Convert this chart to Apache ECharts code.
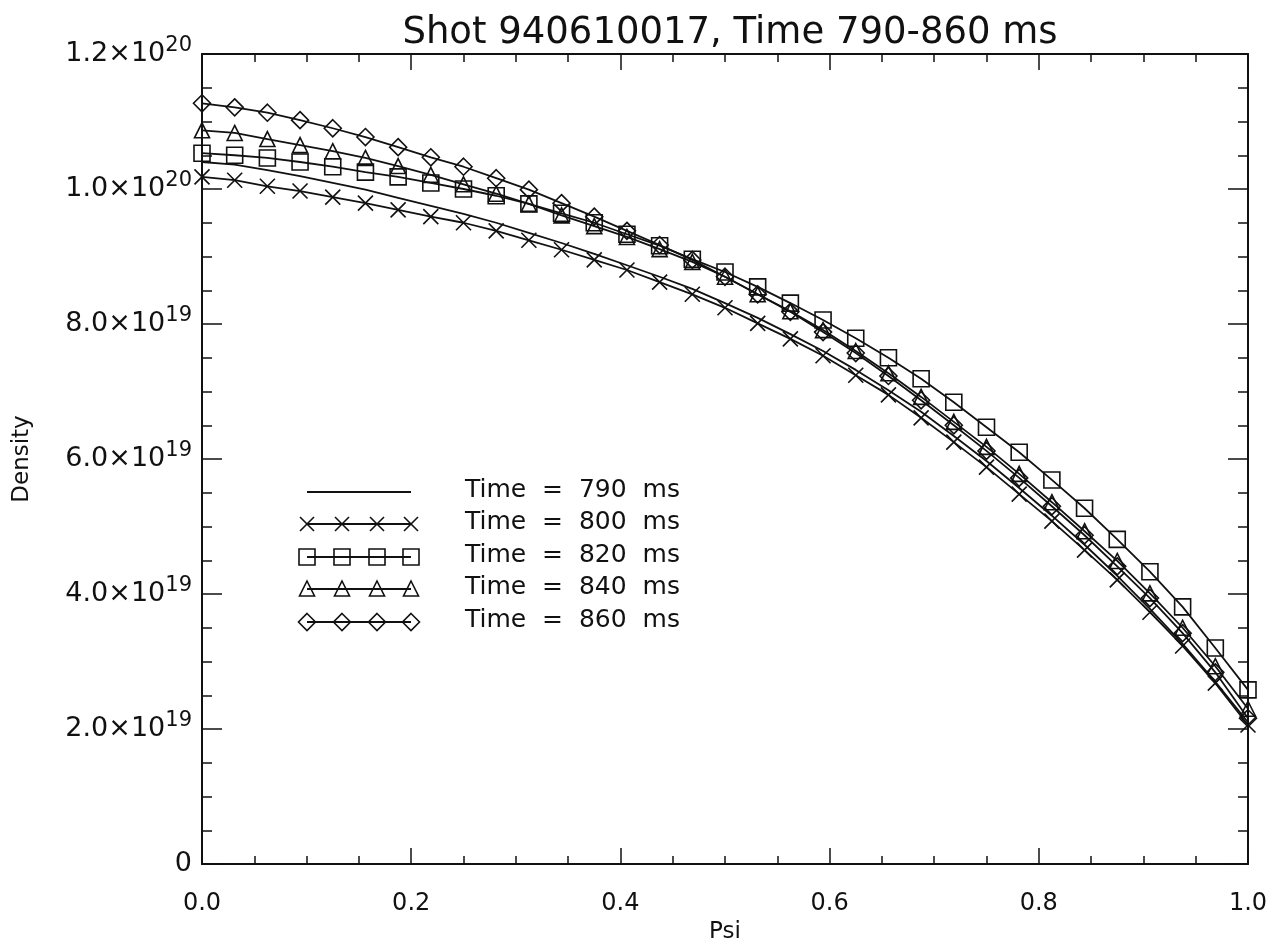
<!DOCTYPE html>
<html>
<head>
<meta charset="utf-8">
<script src="https://cdn.jsdelivr.net/npm/echarts@6/dist/echarts.min.js"></script>
<style>
html,body{margin:0;padding:0;background:#fff;}
#chart{width:1284px;height:945px;}
</style>
</head>
<body>
<div id="chart"></div>
<script>
// Psi grid (33 points)
const psi = [0, 0.03125, 0.0625, 0.09375, 0.125, 0.15625, 0.1875, 0.21875, 0.25, 0.28125,
  0.3125, 0.34375, 0.375, 0.40625, 0.4375, 0.46875, 0.5, 0.53125, 0.5625, 0.59375,
  0.625, 0.65625, 0.6875, 0.71875, 0.75, 0.78125, 0.8125, 0.84375, 0.875, 0.90625,
  0.9375, 0.96875, 1.0];

// Density values in units of 1e19 m^-3
const t790 = [10.40, 10.36, 10.28, 10.19, 10.09, 9.99, 9.87, 9.75, 9.63, 9.50,
  9.35, 9.20, 9.04, 8.87, 8.70, 8.52, 8.31, 8.09, 7.85, 7.60,
  7.32, 7.02, 6.70, 6.34, 5.97, 5.57, 5.16, 4.73, 4.27, 3.78,
  3.26, 2.70, 2.10];
const t800 = [10.18, 10.13, 10.04, 9.97, 9.88, 9.79, 9.69, 9.59, 9.50, 9.38,
  9.24, 9.10, 8.95, 8.80, 8.62, 8.44, 8.24, 8.01, 7.78, 7.53,
  7.24, 6.95, 6.61, 6.25, 5.88, 5.48, 5.08, 4.65, 4.21, 3.73,
  3.23, 2.68, 2.06];
const t820 = [10.53, 10.50, 10.46, 10.40, 10.33, 10.25, 10.18, 10.09, 10.00, 9.90,
  9.78, 9.64, 9.50, 9.33, 9.16, 8.96, 8.77, 8.55, 8.31, 8.06,
  7.79, 7.50, 7.19, 6.84, 6.47, 6.10, 5.69, 5.27, 4.81, 4.33,
  3.81, 3.20, 2.58];
const t840 = [10.87, 10.83, 10.74, 10.65, 10.56, 10.46, 10.34, 10.21, 10.07, 9.93,
  9.78, 9.61, 9.45, 9.29, 9.11, 8.92, 8.70, 8.44, 8.19, 7.91,
  7.60, 7.27, 6.92, 6.55, 6.18, 5.78, 5.36, 4.93, 4.49, 4.01,
  3.50, 2.93, 2.30];
const t860 = [11.27, 11.21, 11.13, 11.02, 10.90, 10.77, 10.62, 10.47, 10.33, 10.16,
  9.99, 9.79, 9.59, 9.38, 9.17, 8.95, 8.70, 8.44, 8.18, 7.88,
  7.57, 7.23, 6.87, 6.50, 6.12, 5.72, 5.30, 4.87, 4.41, 3.94,
  3.42, 2.84, 2.16];

const seriesNames = ['Time = 790 ms', 'Time = 800 ms', 'Time = 820 ms', 'Time = 840 ms', 'Time = 860 ms'];
const legendTexts = ['Time  =  790  ms', 'Time  =  800  ms', 'Time  =  820  ms', 'Time  =  840  ms', 'Time  =  860  ms'];

// Y tick labels (value in 1e19 units -> [mantissa, exponent])
const yTickValues = [0, 2, 4, 6, 8, 10, 12];
const yTickMant = ['0', '2.0×10', '4.0×10', '6.0×10', '8.0×10', '1.0×10', '1.2×10'];
const yTickExp = ['', '19', '19', '19', '19', '20', '20'];
const xTickLabels = ['0.0', '0.2', '0.4', '0.6', '0.8', '1.0'];

const INK = '#111';
const FONT = 'DejaVu Sans';

const chart = echarts.init(document.getElementById('chart'), null, {renderer: 'canvas'});

const symX = 'path://M0,0L10,10M10,0L0,10';
const symbols = ['none', symX, 'rect', 'triangle', 'diamond'];
const symSizes = [0, 15, 16, 15, 17];
const dataSets = [t790, t800, t820, t840, t860];

const series = dataSets.map((d, s) => ({
  type: 'line',
  name: seriesNames[s],
  data: psi.map((x, i) => [x, d[i]]),
  symbol: symbols[s],
  symbolSize: symSizes[s],
  showSymbol: s > 0,
  showAllSymbol: true,
  animation: false,
  lineStyle: {color: INK, width: 1.8},
  itemStyle: {color: 'rgba(0,0,0,0)', borderColor: INK, borderWidth: 1.6},
  emphasis: {disabled: true},
  z: 3 + s
}));

// legend samples drawn as graphics (decoration only)
const rowsY = [492, 524, 557, 589, 622];
const lx0 = 307, lx1 = 411;
const mxs = [307, 342, 377, 411];
const graphic = [];
rowsY.forEach((y, r) => {
  graphic.push({type: 'line', shape: {x1: lx0, y1: y, x2: lx1, y2: y}, style: {stroke: INK, lineWidth: 1.8}, silent: true});
  if (r > 0) {
    mxs.forEach(mx => {
      let el;
      if (r === 1) {
        el = {type: 'polyline', shape: {points: [[mx - 7, y - 7], [mx + 7, y + 7]]}, style: {stroke: INK, lineWidth: 1.6, fill: null}};
        graphic.push(el);
        el = {type: 'polyline', shape: {points: [[mx + 7, y - 7], [mx - 7, y + 7]]}, style: {stroke: INK, lineWidth: 1.6, fill: null}};
      } else if (r === 2) {
        el = {type: 'rect', shape: {x: mx - 8, y: y - 8, width: 16, height: 16}, style: {stroke: INK, lineWidth: 1.6, fill: null}};
      } else if (r === 3) {
        el = {type: 'polygon', shape: {points: [[mx, y - 8], [mx + 7.5, y + 7], [mx - 7.5, y + 7]]}, style: {stroke: INK, lineWidth: 1.6, fill: null}};
      } else {
        el = {type: 'polygon', shape: {points: [[mx, y - 8.5], [mx + 8.5, y], [mx, y + 8.5], [mx - 8.5, y]]}, style: {stroke: INK, lineWidth: 1.6, fill: null}};
      }
      el.silent = true;
      graphic.push(el);
    });
  }
  graphic.push({type: 'text', left: 465, top: y - 14, silent: true,
    style: {text: legendTexts[r], fontFamily: FONT, fontSize: 25, fill: INK}});
});

const axisLineStyle = {show: true, onZero: false, lineStyle: {color: INK, width: 2}};

const option = {
  backgroundColor: '#fff',
  animation: false,
  title: {
    text: 'Shot 940610017, Time 790-860 ms',
    left: 725, top: 10, textAlign: 'center',
    textStyle: {fontFamily: FONT, fontSize: 37, fontWeight: 'normal', color: INK}
  },
  grid: {left: 202, right: 36, top: 54, bottom: 81, containLabel: false, outerBoundsMode: 'none'},
  xAxis: [
    {
      type: 'value', position: 'bottom', min: 0, max: 1, interval: 0.2,
      axisLine: axisLineStyle, splitLine: {show: false},
      name: 'Psi', nameLocation: 'middle', nameGap: 57,
      nameTextStyle: {fontFamily: FONT, fontSize: 23, color: INK},
      axisTick: {show: true, inside: true, length: 16, lineStyle: {color: INK, width: 1.5}},
      minorTick: {show: true, splitNumber: 4, length: 8, lineStyle: {color: INK, width: 1.5}},
      axisLabel: {show: true, margin: 28, fontFamily: FONT, fontSize: 24, color: INK,
        formatter: v => xTickLabels[Math.round(v / 0.2)]}
    },
    {
      type: 'value', position: 'top', min: 0, max: 1, interval: 0.2,
      axisLine: axisLineStyle, splitLine: {show: false},
      axisTick: {show: true, inside: true, length: 16, lineStyle: {color: INK, width: 1.5}},
      minorTick: {show: true, splitNumber: 4, length: 8, lineStyle: {color: INK, width: 1.5}},
      axisLabel: {show: false}
    }
  ],
  yAxis: [
    {
      type: 'value', position: 'left', min: 0, max: 12, interval: 2,
      name: 'Density', nameLocation: 'middle', nameGap: 168, nameRotate: 90,
      nameTextStyle: {fontFamily: FONT, fontSize: 23, color: INK},
      axisLine: axisLineStyle,
      splitLine: {show: false},
      axisTick: {show: true, inside: true, length: 20, lineStyle: {color: INK, width: 1.5}},
      minorTick: {show: true, splitNumber: 4, length: 10, lineStyle: {color: INK, width: 1.5}},
      axisLabel: {
        show: true, margin: 10,
        formatter: v => {
          const i = yTickValues.indexOf(Math.round(v));
          if (i < 0) return '';
          return yTickExp[i] ? '{m|' + yTickMant[i] + '}{e|' + yTickExp[i] + '}' : '{m|' + yTickMant[i] + '}';
        },
        rich: {
          m: {fontFamily: FONT, fontSize: 27, color: INK},
          e: {fontFamily: FONT, fontSize: 21, color: INK, padding: [0, 0, 16, 0]}
        }
      }
    },
    {
      type: 'value', position: 'right', min: 0, max: 12, interval: 2,
      axisLine: axisLineStyle,
      splitLine: {show: false},
      axisTick: {show: true, inside: true, length: 20, lineStyle: {color: INK, width: 1.5}},
      minorTick: {show: true, splitNumber: 4, length: 10, lineStyle: {color: INK, width: 1.5}},
      axisLabel: {show: false}
    }
  ],
  series: series,
  graphic: graphic
};

chart.setOption(option);
</script>
</body>
</html>
